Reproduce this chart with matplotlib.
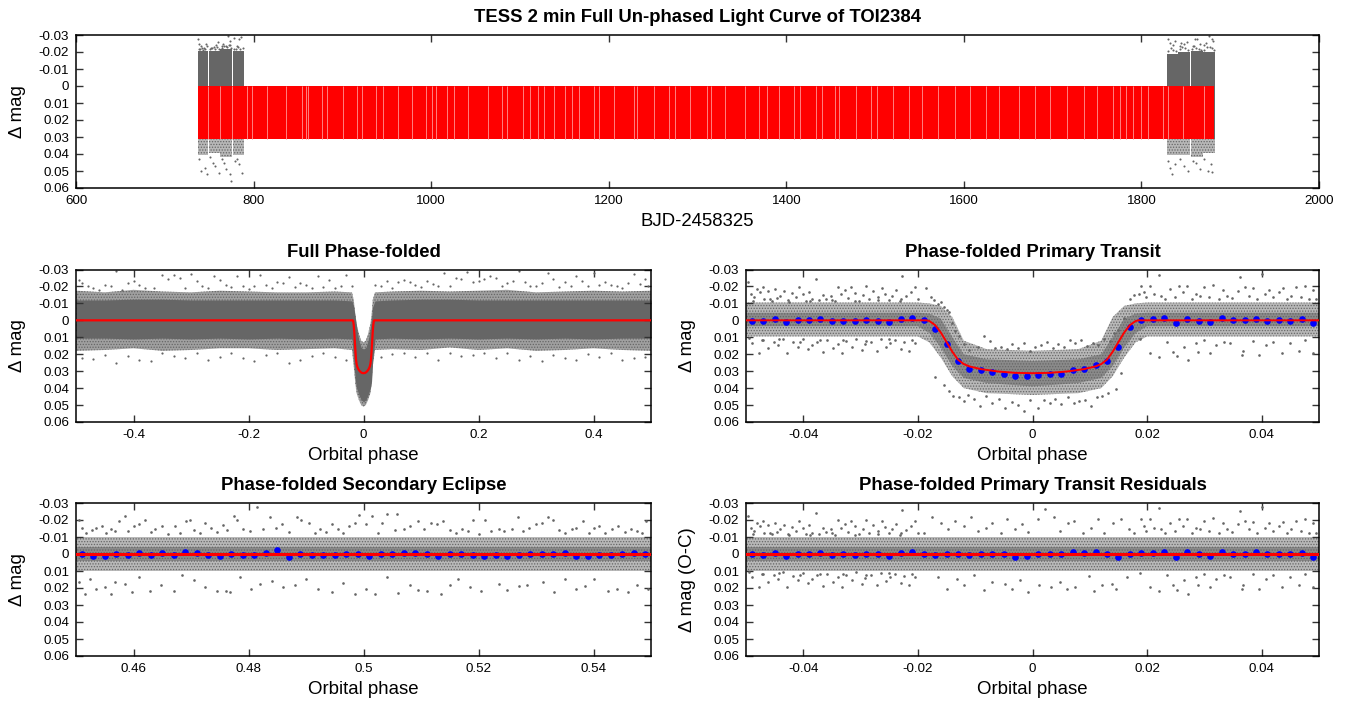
# -*- coding: utf-8 -*-
import matplotlib
matplotlib.use('Agg')
import matplotlib.pyplot as plt

plt.rcParams['font.family'] = ['Liberation Sans', 'DejaVu Sans']
plt.rcParams['hatch.linewidth'] = 0.6

GREY = '#666666'

yticks = [-0.03, -0.02, -0.01, 0, 0.01, 0.02, 0.03, 0.04, 0.05, 0.06]
ylabels = ['-0.03', '-0.02', '-0.01', '0', '0.01', '0.02', '0.03', '0.04', '0.05', '0.06']

# full light curve: observed blocks (start, end, top of solid part, bottom of speckled part)
lc_start = [737, 749.6, 762.6, 776.6, 1829, 1841.6, 1855.6, 1869.6]
lc_end = [749, 762, 776, 789, 1841, 1855, 1869, 1883]
lc_top = [-0.0205, -0.0205, -0.0215, -0.0205, -0.019, -0.02, -0.0205, -0.02]
lc_bot = [0.0405, 0.0395, 0.0415, 0.0405, 0.0405, 0.0405, 0.0415, 0.0395]
lc_out_x = [737, 739, 741, 744, 746, 752, 755, 758, 760, 764, 766, 769, 771, 772, 774, 778, 781, 784, 786,
            738, 741, 745, 748, 751, 754, 757, 761, 764, 767, 769, 773, 775, 779, 781, 784, 787,
            1830, 1832, 1835, 1838, 1843, 1845, 1848, 1851, 1858, 1860, 1863, 1866, 1871, 1873, 1876, 1879, 1881,
            1830, 1832, 1834, 1838, 1844, 1848, 1852, 1858, 1861, 1866, 1871, 1875, 1878, 1880,
            738, 740, 742, 743, 745, 747, 751, 753, 756, 759, 761, 765, 767, 770, 773, 775, 778, 780, 782, 785, 788,
            1830, 1833, 1836, 1839, 1843, 1846, 1849, 1853, 1857, 1859, 1862, 1865, 1867, 1871, 1874, 1877, 1880, 1882]
lc_out_y = [-0.0275, -0.025, -0.0235, -0.0225, -0.0245, -0.0225, -0.023, -0.024, -0.026, -0.0235, -0.0245, -0.0235,
            -0.0295, -0.024, -0.0265, -0.0285, -0.0235, -0.0275, -0.029,
            0.043, 0.05, 0.048, 0.052, 0.042, 0.045, 0.047, 0.051, 0.043, 0.045, 0.049, 0.052, 0.056, 0.044, 0.043,
            0.046, 0.051,
            -0.0275, -0.0255, -0.024, -0.0265, -0.0235, -0.0255, -0.025, -0.026, -0.0235, -0.0275, -0.0275, -0.0245,
            -0.024, -0.0255, -0.0295, -0.0275, -0.0265,
            0.044, 0.048, 0.052, 0.046, 0.043, 0.047, 0.05, 0.044, 0.045, 0.049, 0.043, 0.05, 0.046, 0.0505,
            -0.022, -0.0215, -0.0225, -0.0212, -0.022, -0.0235, -0.0215, -0.0222, -0.0218, -0.023, -0.0215, -0.0225,
            -0.0235, -0.0228, -0.024, -0.0222, -0.0215, -0.022, -0.023, -0.0218, -0.0225,
            -0.0205, -0.0222, -0.0212, -0.0205, -0.0215, -0.023, -0.0222, -0.021, -0.0215, -0.0235, -0.0225, -0.0218,
            -0.021, -0.0212, -0.0228, -0.0232, -0.0222, -0.021]

# red model band of the full light curve
band_start = 737
band_end = 1882
band_depth = 0.0312
band_gaps = [749, 762, 776, 793, 798, 815, 837, 854, 859, 861, 877, 883, 901, 916, 922, 938, 946, 963, 978, 994,
             1001, 1006, 1018, 1026, 1042, 1064, 1080, 1085, 1104, 1111, 1120, 1127, 1138, 1151, 1159, 1166, 1183,
             1189, 1206, 1228, 1232, 1251, 1268, 1275, 1292, 1311, 1315, 1331, 1354, 1369, 1378, 1392, 1409, 1415,
             1433, 1440, 1455, 1459, 1478, 1495, 1502, 1520, 1538, 1553, 1571, 1590, 1607, 1625, 1640, 1662, 1680,
             1697, 1716, 1735, 1750, 1768, 1776, 1783, 1791, 1800, 1807, 1824, 1830, 1847, 1870]

# transit model, used in the folded panels
model_x = [-0.5, -0.0185, -0.018, -0.017, -0.016, -0.015, -0.014, -0.013, -0.012, -0.011, -0.009, -0.006, -0.003, 0,
           0.003, 0.006, 0.009, 0.011, 0.012, 0.013, 0.014, 0.015, 0.016, 0.017, 0.018, 0.0185, 0.5]
model_y = [0, 0, 0.0004, 0.0028, 0.0072, 0.0128, 0.0185, 0.0232, 0.0258, 0.0272, 0.0288, 0.0302, 0.031, 0.0312,
           0.031, 0.0302, 0.0288, 0.0272, 0.0258, 0.0232, 0.0185, 0.0128, 0.0072, 0.0028, 0.0004, 0, 0]

# full phase-folded cloud envelopes
full_x = [-0.5, -0.45, -0.4, -0.35, -0.3, -0.25, -0.2, -0.15, -0.1, -0.05, -0.02, -0.017, -0.014, -0.012, -0.008,
          -0.004, 0, 0.004, 0.008, 0.012, 0.014, 0.016, 0.02, 0.05, 0.1, 0.15, 0.2, 0.25, 0.3, 0.35, 0.4, 0.45, 0.5]
full_core_top = [-0.012, -0.012, -0.0125, -0.0125, -0.012, -0.012, -0.012, -0.012, -0.012, -0.012, -0.0115, -0.008,
                 -0.001, 0.004, 0.012, 0.016, 0.017, 0.016, 0.012, 0.004, -0.001, -0.008, -0.0115, -0.012, -0.0125,
                 -0.0125, -0.012, -0.012, -0.012, -0.012, -0.012, -0.012, -0.012]
full_core_bot = [0.0105, 0.0105, 0.011, 0.0105, 0.011, 0.0105, 0.011, 0.0105, 0.011, 0.0105, 0.011, 0.024, 0.036,
                 0.04, 0.044, 0.047, 0.048, 0.047, 0.044, 0.04, 0.036, 0.024, 0.011, 0.0105, 0.011, 0.0105, 0.011,
                 0.0105, 0.011, 0.0105, 0.011, 0.0105, 0.0105]
full_halo_top = [-0.0175, -0.0165, -0.018, -0.017, -0.0165, -0.0175, -0.017, -0.0165, -0.0165, -0.017, -0.0165,
                 -0.012, -0.003, 0.002, 0.008, 0.012, 0.013, 0.012, 0.008, 0.002, -0.003, -0.012, -0.0165, -0.017,
                 -0.0175, -0.017, -0.0175, -0.018, -0.0165, -0.017, -0.0175, -0.017, -0.0175]
full_halo_bot = [0.018, 0.0175, 0.0165, 0.018, 0.0175, 0.0165, 0.0165, 0.0175, 0.017, 0.0165, 0.0175, 0.027, 0.038,
                 0.043, 0.047, 0.05, 0.051, 0.05, 0.047, 0.043, 0.038, 0.027, 0.0175, 0.017, 0.0175, 0.016, 0.0175,
                 0.0165, 0.018, 0.0175, 0.0165, 0.0175, 0.018]
full_out_x = [-0.495, -0.49, -0.48, -0.47, -0.46, -0.45, -0.44, -0.43, -0.42, -0.41, -0.4, -0.39, -0.38, -0.365,
              -0.35, -0.34, -0.33, -0.32, -0.31, -0.3, -0.29, -0.28, -0.27, -0.26, -0.25, -0.24, -0.23, -0.22, -0.21,
              -0.2, -0.19, -0.18, -0.17, -0.16, -0.15, -0.14, -0.13, -0.12, -0.11, -0.1, -0.09, -0.08, -0.07, -0.06,
              -0.05, -0.04, -0.03, -0.02, 0.02, 0.03, 0.04, 0.05, 0.06, 0.07, 0.08, 0.09, 0.1, 0.11, 0.12, 0.13, 0.14,
              0.15, 0.16, 0.17, 0.18, 0.19, 0.2, 0.21, 0.22, 0.23, 0.24, 0.25, 0.26, 0.27, 0.28, 0.29, 0.3, 0.31,
              0.32, 0.33, 0.34, 0.35, 0.36, 0.37, 0.38, 0.39, 0.4, 0.41, 0.42, 0.43, 0.44, 0.45, 0.46, 0.47, 0.48,
              0.49, 0.495,
              -0.49, -0.47, -0.45, -0.43, -0.41, -0.39, -0.37, -0.35, -0.33, -0.31, -0.29, -0.27, -0.25, -0.23, -0.21,
              -0.19, -0.17, -0.15, -0.13, -0.11, -0.09, -0.07, -0.05, -0.03, 0.03, 0.05, 0.07, 0.09, 0.11, 0.13, 0.15,
              0.17, 0.19, 0.21, 0.23, 0.25, 0.27, 0.29, 0.31, 0.33, 0.35, 0.37, 0.39, 0.41, 0.43, 0.45, 0.47, 0.49]
full_out_y = [-0.024, -0.022, -0.02, -0.019, -0.018, -0.021, -0.02, -0.029, -0.018, -0.022, -0.023, -0.021, -0.019,
              -0.019, -0.0265, -0.0245, -0.0265, -0.025, -0.019, -0.0275, -0.023, -0.02, -0.019, -0.026, -0.024,
              -0.021, -0.0195, -0.026, -0.02, -0.0185, -0.02, -0.027, -0.021, -0.019, -0.0225, -0.022, -0.0255,
              -0.0195, -0.022, -0.021, -0.019, -0.026, -0.0195, -0.024, -0.019, -0.0205, -0.0265, -0.02, -0.021, -0.02,
              -0.0235, -0.019, -0.0225, -0.024, -0.0225, -0.021, -0.0195, -0.023, -0.0215, -0.0205, -0.028, -0.0205,
              -0.025, -0.0245, -0.0285, -0.0225, -0.0235, -0.0245, -0.026, -0.025, -0.0205, -0.022, -0.0235, -0.029,
              -0.0225, -0.02, -0.0205, -0.022, -0.028, -0.0245, -0.0195, -0.0225, -0.0205, -0.026, -0.0235, -0.0205,
              -0.028, -0.021, -0.0225, -0.021, -0.0205, -0.019, -0.022, -0.0275, -0.0215, -0.0245, -0.0205,
              0.022, 0.023, 0.0205, 0.025, 0.021, 0.0235, 0.024, 0.0195, 0.021, 0.0225, 0.0195, 0.0235, 0.0215, 0.019,
              0.022, 0.024, 0.0205, 0.0195, 0.025, 0.0235, 0.021, 0.019, 0.0215, 0.0235, 0.0215, 0.02, 0.0195, 0.0215,
              0.019, 0.0235, 0.0195, 0.021, 0.0205, 0.0195, 0.022, 0.0195, 0.0235, 0.021, 0.024, 0.0205, 0.0225,
              0.0235, 0.02, 0.0215, 0.0195, 0.0235, 0.022, 0.0215]

# zoom-panel cloud envelopes (out of transit and through transit)
tr_x = [-0.05, -0.02, -0.018, -0.016, -0.014, -0.012, -0.008, 0, 0.008, 0.012, 0.014, 0.016, 0.018, 0.02, 0.05]
tr_core_top = [-0.0045, -0.0045, -0.004, -0.001, 0.01, 0.02, 0.023, 0.024, 0.023, 0.02, 0.01, -0.001, -0.004,
               -0.0045, -0.0045]
tr_core_bot = [0.0035, 0.0035, 0.0075, 0.016, 0.027, 0.034, 0.037, 0.039, 0.037, 0.034, 0.027, 0.016, 0.0075,
               0.0035, 0.0035]
tr_halo_top = [-0.0105, -0.0105, -0.01, -0.0085, -0.002, 0.012, 0.017, 0.018, 0.017, 0.012, -0.002, -0.0085, -0.01,
               -0.0105, -0.0105]
tr_halo_bot = [0.0095, 0.0095, 0.013, 0.022, 0.033, 0.04, 0.043, 0.044, 0.043, 0.04, 0.033, 0.022, 0.013, 0.0095,
               0.0095]
flat_x = [0.45, 0.55]
res_x = [-0.05, 0.05]
flat_core = 0.0042
flat_halo = 0.0098

# sparse points of the primary transit, left out-of-transit side, also seen in the residuals
left_x = [-0.0497, -0.0492, -0.0486, -0.048, -0.0475, -0.047, -0.0468, -0.0462, -0.0455, -0.045, -0.0446, -0.044,
          -0.0433, -0.0425, -0.042, -0.0412, -0.0408, -0.04, -0.0395, -0.039, -0.0384, -0.0378, -0.0372, -0.0365,
          -0.036, -0.0352, -0.0345, -0.034, -0.0335, -0.0328, -0.0322, -0.0316, -0.031, -0.0303, -0.0296, -0.029,
          -0.0285, -0.0278, -0.027, -0.0263, -0.0258, -0.025, -0.0245, -0.0238, -0.0232, -0.0228, -0.022, -0.0212,
          -0.0205, -0.02,
          -0.0495, -0.049, -0.0478, -0.047, -0.0462, -0.0452, -0.0445, -0.0435, -0.0428, -0.0418, -0.041, -0.04,
          -0.0392, -0.0385, -0.0376, -0.0365, -0.0358, -0.0348, -0.034, -0.0332, -0.0325, -0.0315, -0.0308, -0.0298,
          -0.0292, -0.0282, -0.0272, -0.0265, -0.0256, -0.0248, -0.024, -0.023, -0.0225, -0.0215, -0.0205,
          -0.0488, -0.0472, -0.0458, -0.0442, -0.0426, -0.0405, -0.0388, -0.037, -0.035, -0.033, -0.031, -0.029,
          -0.027, -0.025, -0.023, -0.021]
left_y = [-0.0224, -0.0155, -0.0135, -0.0185, -0.0165, -0.0196, -0.0125, -0.0172, -0.0115, -0.0185, -0.013, -0.0145,
          -0.0172, -0.011, -0.016, -0.0135, -0.0195, -0.0155, -0.0115, -0.0168, -0.0125, -0.0243, -0.0118, -0.0152,
          -0.0128, -0.0145, -0.0112, -0.0198, -0.0155, -0.0178, -0.0132, -0.0195, -0.0162, -0.0115, -0.0148, -0.02,
          -0.0125, -0.0172, -0.0135, -0.0192, -0.0158, -0.0122, -0.0145, -0.0178, -0.0112, -0.0261, -0.0142, -0.0165,
          -0.0195, -0.0125,
          0.0105, 0.0135, 0.0192, 0.0118, 0.0162, 0.0125, 0.0145, 0.0108, 0.0192, 0.0128, 0.0155, 0.0112, 0.0172,
          0.0145, 0.0125, 0.0188, 0.0115, 0.0165, 0.0138, 0.0195, 0.0122, 0.0155, 0.0108, 0.0178, 0.0142, 0.0125,
          0.0182, 0.0112, 0.0158, 0.0135, 0.0118, 0.0172, 0.0128, 0.0182, 0.0135,
          -0.0115, 0.0115, -0.0125, 0.0112, -0.0118, 0.0125, -0.0112, 0.0115, -0.0122, 0.0118, -0.0112, 0.0122,
          -0.0118, 0.0112, -0.0125, 0.0118]

# primary transit, remaining sparse points
tr_out_x = [-0.0185, -0.0178, -0.0172, -0.0165, -0.016, -0.0155, -0.015, -0.0145, -0.014, -0.0135, -0.0128, -0.012,
            -0.011, -0.0095, -0.0085, -0.0075, -0.0065, -0.0055, -0.0045, -0.0035, -0.0025, -0.0015, -0.0005, 0.0005,
            0.0015, 0.0025, 0.0035, 0.0045, 0.0055, 0.0065, 0.0075, 0.0085, 0.0095, 0.0105, 0.0115, 0.0125, 0.0135,
            0.0142, 0.015, 0.016, 0.017, 0.0178, 0.0185,
            -0.017, -0.0155, -0.0145, -0.0138, -0.0128, -0.012, -0.0112, -0.0102, -0.0092, -0.0082, -0.007, -0.0058,
            -0.0048, -0.0035, -0.0025, -0.0015, -0.0005, 0.001, 0.002, 0.003, 0.004, 0.005, 0.0062, 0.0072, 0.0082,
            0.0092, 0.0102, 0.0112, 0.0122, 0.0132, 0.0145, 0.0155,
            0.019, 0.0195, 0.0198, 0.0205, 0.0212, 0.022, 0.0225, 0.0232, 0.024, 0.0248, 0.0255, 0.0262, 0.027, 0.0278,
            0.0285, 0.0292, 0.03, 0.0308, 0.0315, 0.0325, 0.0332, 0.034, 0.0348, 0.0358, 0.0362, 0.037, 0.0378, 0.0385,
            0.0392, 0.04, 0.0405, 0.0412, 0.042, 0.043, 0.0438, 0.0445, 0.0452, 0.046, 0.0468, 0.0475, 0.0482, 0.049,
            0.0495,
            0.0188, 0.0205, 0.022, 0.0235, 0.0245, 0.0252, 0.0265, 0.0272, 0.0285, 0.0288, 0.03, 0.031, 0.032, 0.0335,
            0.0345, 0.0365, 0.0368, 0.0385, 0.0395, 0.0408, 0.042, 0.0435, 0.045, 0.0465, 0.0475, 0.049]
tr_out_y = [-0.019, -0.014, -0.0118, -0.0095, -0.011, -0.0078, -0.006, -0.0048, 0.0015, 0.006, 0.0095, 0.014, 0.0175,
            0.0155, 0.009, 0.012, 0.0165, 0.0155, 0.017, 0.014, 0.0165, 0.0135, 0.018, 0.016, 0.0145, 0.0125, 0.0165,
            0.014, 0.0155, 0.0115, 0.0135, 0.0115, 0.015, 0.0135, 0.0145, 0.011, 0.012, 0.0075, 0.0055, -0.0015,
            -0.0125, -0.015, -0.0155,
            0.0335, 0.038, 0.0415, 0.0445, 0.0455, 0.0475, 0.044, 0.0465, 0.0505, 0.0445, 0.049, 0.0465, 0.0515,
            0.048, 0.05, 0.0535, 0.047, 0.0515, 0.047, 0.049, 0.0465, 0.0495, 0.045, 0.0485, 0.0475, 0.047, 0.0505,
            0.0455, 0.0445, 0.043, 0.0405, 0.031,
            -0.0205, -0.0165, -0.0135, -0.0205, -0.0155, -0.027, -0.0145, -0.0125, -0.0185, -0.0135, -0.0205, -0.0165,
            -0.0205, -0.0125, -0.0155, -0.0145, -0.0195, -0.0135, -0.021, -0.0125, -0.018, -0.0145, -0.013, -0.0175,
            -0.0255, -0.0195, -0.0145, -0.019, -0.0125, -0.0275, -0.0155, -0.018, -0.0135, -0.0165, -0.019, -0.0125,
            -0.0145, -0.0195, -0.0135, -0.0205, -0.0125, -0.018, -0.0125,
            0.011, 0.0195, 0.0215, 0.0125, 0.0185, 0.021, 0.0155, 0.0235, 0.0135, 0.0185, 0.0115, 0.0195, 0.0145,
            0.0125, 0.0135, 0.0205, 0.018, 0.012, 0.0205, 0.0145, 0.0125, 0.0195, 0.0135, 0.018, 0.0115, 0.0195]

# primary transit residuals, middle and right parts
res_out_x = [-0.019, -0.0175, -0.016, -0.0148, -0.0135, -0.012, -0.0108, -0.0095, -0.0082, -0.007, -0.0055, -0.0045,
             -0.003, -0.0018, -0.0008, 0.001, 0.0022, 0.0038, 0.0048, 0.0062, 0.0072, 0.0088, 0.0102, 0.0115, 0.0125,
             0.014, 0.0155, 0.0168, 0.0178,
             -0.0165, -0.015, -0.0132, -0.012, -0.0102, -0.0085, -0.007, -0.0048, -0.0035, -0.0022, -0.0008, 0.0012,
             0.0032, 0.0048, 0.006, 0.0075, 0.0098, 0.0108, 0.0122, 0.0138, 0.0145, 0.0165,
             0.019, 0.0195, 0.0198, 0.0205, 0.0212, 0.022, 0.0225, 0.0232, 0.024, 0.0248, 0.0255, 0.0262, 0.027, 0.0278,
             0.0285, 0.0292, 0.03, 0.0308, 0.0315, 0.0325, 0.0332, 0.034, 0.0348, 0.0358, 0.0362, 0.037, 0.0378, 0.0385,
             0.0392, 0.04, 0.0405, 0.0412, 0.042, 0.043, 0.0438, 0.0445, 0.0452, 0.046, 0.0468, 0.0475, 0.0482, 0.049,
             0.0495,
             0.0188, 0.0205, 0.022, 0.0235, 0.0245, 0.0252, 0.0265, 0.0272, 0.0285, 0.0288, 0.03, 0.031, 0.032, 0.0335,
             0.0345, 0.0365, 0.0368, 0.0385, 0.0395, 0.0408, 0.042, 0.0435, 0.045, 0.0465, 0.0475, 0.049]
res_out_y = [-0.0125, -0.0215, -0.0185, -0.0145, -0.0195, -0.0165, -0.022, -0.0135, -0.0155, -0.0185, -0.0125,
             -0.0205, -0.0145, -0.0175, -0.013, -0.0205, -0.0265, -0.0215, -0.0135, -0.0185, -0.0195, -0.0125, -0.0155,
             -0.0205, -0.0125, -0.0185, -0.0205, -0.0145, -0.0125,
             0.0135, 0.0205, 0.0145, 0.0185, 0.0125, 0.021, 0.0165, 0.0175, 0.0205, 0.0155, 0.0225, 0.0185, 0.0195,
             0.0165, 0.0205, 0.0195, 0.013, 0.0215, 0.0185, 0.0175, 0.0205, 0.0135,
             -0.0205, -0.0165, -0.0135, -0.0205, -0.0155, -0.027, -0.0145, -0.0125, -0.0185, -0.0135, -0.0205, -0.0165,
             -0.0205, -0.0125, -0.0155, -0.0145, -0.0195, -0.0135, -0.021, -0.0125, -0.018, -0.0145, -0.013, -0.0175,
             -0.0255, -0.0195, -0.0145, -0.019, -0.0125, -0.0275, -0.0155, -0.018, -0.0135, -0.0165, -0.019, -0.0125,
             -0.0145, -0.0195, -0.0135, -0.0205, -0.0125, -0.018, -0.0125,
             0.011, 0.0195, 0.0215, 0.0125, 0.0185, 0.021, 0.0155, 0.0235, 0.0135, 0.0185, 0.0115, 0.0195, 0.0145,
             0.0125, 0.0135, 0.0205, 0.018, 0.012, 0.0205, 0.0145, 0.0125, 0.0195, 0.0135, 0.018, 0.0115, 0.0195]

# secondary eclipse sparse points
sec_out_x = [0.4505, 0.451, 0.4518, 0.4528, 0.4535, 0.4545, 0.4552, 0.456, 0.4568, 0.4575, 0.4585, 0.459, 0.46, 0.461,
             0.462, 0.463, 0.4638, 0.465, 0.466, 0.4672, 0.468, 0.4692, 0.4698, 0.4705, 0.4715, 0.4725, 0.4735, 0.4745,
             0.4755, 0.4762, 0.4775, 0.478, 0.479, 0.4802, 0.4815, 0.4826, 0.4838, 0.4848, 0.4858, 0.487, 0.4885,
             0.4892, 0.4905, 0.4915, 0.4925, 0.4935, 0.4945, 0.4955, 0.4965, 0.4975, 0.4985, 0.4992, 0.5005, 0.5015,
             0.5025, 0.5032, 0.504, 0.5055, 0.5058, 0.507, 0.508, 0.5095, 0.5105, 0.5118, 0.5128, 0.5138, 0.515, 0.516,
             0.5172, 0.5182, 0.519, 0.52, 0.5212, 0.5222, 0.5235, 0.5245, 0.5258, 0.5268, 0.5278, 0.5288, 0.53, 0.531,
             0.532, 0.533, 0.534, 0.535, 0.5362, 0.537, 0.5382, 0.5392, 0.54, 0.541, 0.542, 0.5432, 0.5442, 0.5455,
             0.5465, 0.5475, 0.5485, 0.5492,
             0.4505, 0.4515, 0.4525, 0.4535, 0.455, 0.456, 0.4568, 0.4585, 0.4598, 0.461, 0.4628, 0.4648, 0.467, 0.4685,
             0.4705, 0.4725, 0.4745, 0.476, 0.4768, 0.4785, 0.4805, 0.482, 0.484, 0.486, 0.488, 0.49, 0.492, 0.4945,
             0.4965, 0.4985, 0.5005, 0.502, 0.504, 0.506, 0.508, 0.5095, 0.511, 0.5135, 0.515, 0.5165, 0.5185, 0.5205,
             0.5235, 0.525, 0.527, 0.5285, 0.5312, 0.5332, 0.535, 0.537, 0.5385, 0.54, 0.5425, 0.544, 0.546, 0.5475,
             0.5495]
sec_out_y = [-0.02, -0.0155, -0.0125, -0.014, -0.0155, -0.0165, -0.0125, -0.0145, -0.0135, -0.0195, -0.0225, -0.0135,
             -0.0165, -0.0175, -0.02, -0.013, -0.015, -0.0165, -0.012, -0.0165, -0.0125, -0.0195, -0.02, -0.014,
             -0.0125, -0.0185, -0.0155, -0.013, -0.017, -0.014, -0.0225, -0.02, -0.015, -0.0135, -0.0275, -0.0145,
             -0.022, -0.0155, -0.0175, -0.013, -0.0215, -0.02, -0.0185, -0.0125, -0.0145, -0.013, -0.0175, -0.015,
             -0.0125, -0.0165, -0.0185, -0.023, -0.0175, -0.0225, -0.0125, -0.0185, -0.0235, -0.014, -0.0235, -0.015,
             -0.0165, -0.0195, -0.0145, -0.0185, -0.0175, -0.0195, -0.014, -0.0125, -0.0145, -0.0135, -0.02, -0.012,
             -0.02, -0.0135, -0.0145, -0.0135, -0.0145, -0.022, -0.0135, -0.0155, -0.0175, -0.0185, -0.0215, -0.02,
             -0.014, -0.0125, -0.0145, -0.0155, -0.0195, -0.0125, -0.0155, -0.0165, -0.0125, -0.015, -0.0165, -0.013,
             -0.0145, -0.0135, -0.0125, -0.0195,
             0.0165, 0.0235, 0.0145, 0.0205, 0.0195, 0.0235, 0.0165, 0.0175, 0.0225, 0.0135, 0.022, 0.0185, 0.022,
             0.0125, 0.0155, 0.0195, 0.022, 0.0215, 0.0225, 0.0135, 0.0205, 0.0175, 0.016, 0.0195, 0.0185, 0.0145,
             0.0205, 0.0225, 0.017, 0.0235, 0.0205, 0.0235, 0.0135, 0.023, 0.0185, 0.021, 0.0215, 0.0235, 0.0185,
             0.0145, 0.0195, 0.022, 0.0175, 0.021, 0.019, 0.0185, 0.0165, 0.0225, 0.0145, 0.0205, 0.019, 0.0145, 0.022,
             0.0205, 0.0225, 0.0185, 0.0205]

# binned points (blue)
bin_phase = [-0.049, -0.047, -0.045, -0.043, -0.041, -0.039, -0.037, -0.035, -0.033, -0.031, -0.029, -0.027, -0.025,
             -0.023, -0.021, -0.019, -0.017, -0.015, -0.013, -0.011, -0.009, -0.007, -0.005, -0.003, -0.001, 0.001,
             0.003, 0.005, 0.007, 0.009, 0.011, 0.013, 0.015, 0.017, 0.019, 0.021, 0.023, 0.025, 0.027, 0.029, 0.031,
             0.033, 0.035, 0.037, 0.039, 0.041, 0.043, 0.045, 0.047, 0.049]
bin_primary = [0.0002, 0.0004, -0.0008, 0.001, 0, 0, -0.0008, 0.0004, 0.0002, 0.0006, 0, 0.0002, 0.001, -0.0008,
               -0.0014, -0.0002, 0.005, 0.0137, 0.0239, 0.0286, 0.0292, 0.0302, 0.0314, 0.0329, 0.0327, 0.032, 0.0314,
               0.0314, 0.0296, 0.0288, 0.0265, 0.0238, 0.0155, 0.004, -0.0004, -0.001, -0.0014, 0.0018, -0.001, 0.0002,
               0.001, -0.0012, 0, -0.0002, -0.001, 0.0002, 0, 0.0002, -0.0008, 0.0016]
bin_residual = [0.0002, 0.0004, -0.0004, 0.0012, 0, 0, -0.0004, 0.0004, 0.0002, 0.0006, 0, 0.0002, 0.001, -0.0004,
                -0.0014, 0.0002, 0.0008, -0.0002, 0.0002, 0.0008, 0, 0, 0.0002, 0.0016, 0.0012, 0.0002, -0.0002, 0,
                -0.0012, -0.0004, -0.0012, 0.0002, 0.0016, 0, -0.0004, -0.0008, -0.0014, 0.0018, -0.0012, 0.0002,
                0.001, -0.0012, 0, -0.0002, -0.001, 0.0002, 0, 0.0002, -0.0008, 0.0016]
bin_sec_phase = [0.451, 0.453, 0.455, 0.457, 0.459, 0.461, 0.463, 0.465, 0.467, 0.469, 0.471, 0.473, 0.475, 0.477,
                 0.479, 0.481, 0.483, 0.485, 0.487, 0.489, 0.491, 0.493, 0.495, 0.497, 0.499, 0.501, 0.503, 0.505,
                 0.507, 0.509, 0.511, 0.513, 0.515, 0.517, 0.519, 0.521, 0.523, 0.525, 0.527, 0.529, 0.531, 0.533,
                 0.535, 0.537, 0.539, 0.541, 0.543, 0.545, 0.547, 0.549]
bin_secondary = [0.0002, 0.0012, 0.001, 0.0002, 0.0006, -0.0006, 0.0008, -0.0006, 0.0008, -0.0012, -0.0006, 0.0008,
                 0.0014, 0, 0.0004, 0.0004, -0.0006, -0.0024, 0.0016, -0.0002, 0.0008, 0.0008, 0.0006, 0.0002, -0.0002,
                 0.0012, 0, -0.0002, -0.0006, -0.0004, 0.0002, 0.0014, 0, 0.0002, 0.0004, 0.001, 0.0008, 0.001, 0.0006,
                 0.0002, 0.0002, 0, -0.0008, 0.001, 0.0012, 0.0006, 0.0008, -0.0002, -0.0006, 0.0002]


def setup(pos, xlim, xticks, xticklabels, title, xlabel, ylabel):
    left, top, right, bottom = pos
    ax = fig.add_axes([left / 1351, 1 - bottom / 702, (right - left) / 1351, (bottom - top) / 702])
    ax.set_xlim(xlim)
    ax.set_ylim(0.06, -0.03)
    ax.set_xticks(xticks)
    ax.set_xticklabels(xticklabels)
    ax.set_yticks(yticks)
    ax.set_yticklabels(ylabels)
    ax.tick_params(direction='in', top=True, right=True, length=5, width=1, labelsize=9.6, colors='#333333',
                   labelcolor='black', pad=5)
    for s in ax.spines.values():
        s.set_linewidth(1.1)
    ax.set_title(title, fontsize=13.3, fontweight='bold', pad=9)
    ax.set_xlabel(xlabel, fontsize=13.4, labelpad=4)
    ax.set_ylabel(ylabel, fontsize=13.4, va='center')
    ax.yaxis.set_label_coords(-58 / (right - left), 0.5)
    return ax


def speckle(ax, x, top, bot, face='#b8b8b8', hatch='......'):
    # sparse part of a cloud that is too dense to read point by point
    ax.fill_between(x, top, bot, facecolor=face, edgecolor=GREY, hatch=hatch, lw=0, zorder=1)


fig = plt.figure(figsize=(13.51, 7.02), dpi=100)

# top panel
ax = setup((76, 35, 1319, 188), (600, 2000), [600, 800, 1000, 1200, 1400, 1600, 1800, 2000],
           ['600', '800', '1000', '1200', '1400', '1600', '1800', '2000'],
           'TESS 2 min Full Un-phased Light Curve of TOI2384', 'BJD-2458325', '\u0394 mag')
for a, b, t, d in zip(lc_start, lc_end, lc_top, lc_bot):
    ax.fill_between([a, b], [t, t], [0.032, 0.032], color=GREY, lw=0, zorder=1)
    speckle(ax, [a, b], [0.031, 0.031], [d, d])
ax.plot(lc_out_x, lc_out_y, 'o', ms=1.5, mew=0, color=GREY, zorder=2)
ax.fill_between([band_start, band_end], [0, 0], [band_depth, band_depth], color='#ff0000', lw=0, zorder=3)
ax.vlines(band_gaps, 0, band_depth, color='#ff8080', lw=0.7, zorder=4)

# full phase-folded
ax = setup((76, 269.5, 651, 422), (-0.5, 0.5), [-0.4, -0.2, 0, 0.2, 0.4], ['-0.4', '-0.2', '0', '0.2', '0.4'],
           'Full Phase-folded', 'Orbital phase', '\u0394 mag')
speckle(ax, full_x, full_halo_top, full_halo_bot, face='#a0a0a0')
ax.fill_between(full_x, full_core_top, full_core_bot, color=GREY, lw=0, zorder=1)
ax.plot(full_out_x, full_out_y, 'o', ms=1.6, mew=0, color=GREY, zorder=2)
ax.plot(model_x, model_y, color='#ff0000', lw=1.6, zorder=4)

# primary transit
ax = setup((746, 269.5, 1319, 422), (-0.05, 0.05), [-0.04, -0.02, 0, 0.02, 0.04],
           ['-0.04', '-0.02', '0', '0.02', '0.04'],
           'Phase-folded Primary Transit', 'Orbital phase', '\u0394 mag')
speckle(ax, tr_x, tr_halo_top, tr_halo_bot)
speckle(ax, tr_x, tr_core_top, tr_core_bot, face='#8a8a8a')
ax.plot(left_x, left_y, 'o', ms=1.9, mew=0, color=GREY, zorder=2)
ax.plot(tr_out_x, tr_out_y, 'o', ms=1.9, mew=0, color=GREY, zorder=2)
ax.plot(bin_phase, bin_primary, 'o', ms=4.8, mew=0, color='#0000ff', zorder=3)
ax.plot(model_x, model_y, color='#ff0000', lw=1.4, zorder=4)

# secondary eclipse
ax = setup((76, 503, 651, 656), (0.45, 0.55), [0.46, 0.48, 0.5, 0.52, 0.54], ['0.46', '0.48', '0.5', '0.52', '0.54'],
           'Phase-folded Secondary Eclipse', 'Orbital phase', '\u0394 mag')
speckle(ax, flat_x, -flat_halo, flat_halo)
speckle(ax, flat_x, -flat_core, flat_core, face='#8a8a8a')
ax.plot(sec_out_x, sec_out_y, 'o', ms=1.9, mew=0, color=GREY, zorder=2)
ax.plot(bin_sec_phase, bin_secondary, 'o', ms=4.8, mew=0, color='#0000ff', zorder=3)
ax.axhline(0, color='#ff0000', lw=2.2, zorder=4)

# residuals
ax = setup((746, 503, 1319, 656), (-0.05, 0.05), [-0.04, -0.02, 0, 0.02, 0.04],
           ['-0.04', '-0.02', '0', '0.02', '0.04'],
           'Phase-folded Primary Transit Residuals', 'Orbital phase', '\u0394 mag (O-C)')
speckle(ax, res_x, -flat_halo, flat_halo)
speckle(ax, res_x, -flat_core, flat_core, face='#8a8a8a')
ax.plot(left_x, left_y, 'o', ms=1.9, mew=0, color=GREY, zorder=2)
ax.plot(res_out_x, res_out_y, 'o', ms=1.9, mew=0, color=GREY, zorder=2)
ax.plot(bin_phase, bin_residual, 'o', ms=4.8, mew=0, color='#0000ff', zorder=3)
ax.axhline(0, color='#ff0000', lw=2.2, zorder=4)

fig.savefig('out.png', dpi=100)
